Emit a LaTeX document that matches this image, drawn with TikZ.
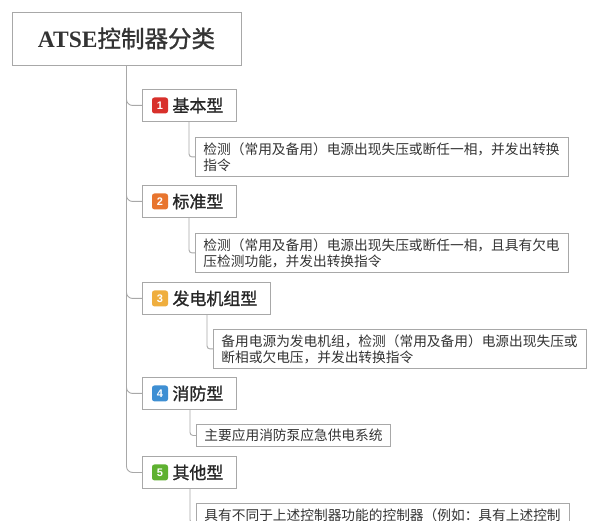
\documentclass[tikz,border=0pt]{standalone}
\usepackage{fontspec}
\setmainfont{Liberation Serif}
\newfontfamily\cjk{Noto Sans CJK SC}
\newfontfamily\cjkbold[FakeBold=1.2]{Noto Sans CJK SC}
\newfontfamily\badgefont{Liberation Sans}
\definecolor{linegray}{HTML}{A8A8A8}
\definecolor{textgray}{HTML}{333333}
\definecolor{badgered}{HTML}{D8302B}
\definecolor{badgeorange}{HTML}{E8752E}
\definecolor{badgeyellow}{HTML}{EFAE3E}
\definecolor{badgeblue}{HTML}{3E8FD3}
\definecolor{badgegreen}{HTML}{5EB130}
\newcommand{\detailfont}{\cjk\fontsize{13.7pt}{16pt}\selectfont}
\begin{document}
\begin{tikzpicture}[
    x=1pt, y=-1pt,
    box/.style={draw=linegray, line width=0.9pt, fill=white, inner sep=0pt, anchor=north west},
    rootbox/.style={box, anchor=center, minimum width=229pt, minimum height=53pt,
        font=\fontsize{23.5pt}{26pt}\selectfont, text=textgray},
    branch/.style={box, minimum height=32pt, inner xsep=13pt,
        font=\cjkbold\fontsize{17pt}{20pt}\selectfont, text=black!85},
    detail/.style={box, inner xsep=8pt, align=left, font=\detailfont, text=textgray},
    longdetail/.style={detail, text width=357pt, minimum height=39pt},
    badge/.style={fill=#1, rounded corners=2.5pt, minimum size=16pt, inner sep=0pt,
        text=white, font=\badgefont\bfseries\fontsize{11pt}{12pt}\selectfont},
    link/.style={draw=linegray, line width=0.9pt, rounded corners=6pt},
    sublink/.style={draw=linegray, line width=0.9pt, rounded corners=3pt}
]
    \useasboundingbox (0,0) rectangle (600,521);
    \clip (0,0) rectangle (600,521);

    % Root
    \node[rootbox] (root) at (126.5,38.5)
        {\textbf{ATSE}{\cjkbold\fontsize{23.5pt}{26pt}\selectfont 控制器分类}};

    % Branches and their details
    \node[branch] (b1) at (142,89) {\hspace*{17pt}基本型};
    \node[longdetail] (d1) at (195,137)
        {检测（常用及备用）电源出现失压或断任一相，并发出转换\\指令};

    \node[branch] (b2) at (142,185) {\hspace*{17pt}标准型};
    \node[longdetail] (d2) at (195,233)
        {检测（常用及备用）电源出现失压或断任一相，且具有欠电\\压检测功能，并发出转换指令};

    \node[branch] (b3) at (142,282) {\hspace*{17pt}发电机组型};
    \node[longdetail] (d3) at (213,329)
        {备用电源为发电机组，检测（常用及备用）电源出现失压或\\断相或欠电压，并发出转换指令};

    \node[branch] (b4) at (142,377) {\hspace*{17pt}消防型};
    \node[detail, minimum height=22pt] (d4) at (196,424)
        {主要应用消防泵应急供电系统};

    \node[branch] (b5) at (142,456) {\hspace*{17pt}其他型};
    \node[longdetail] (d5) at (196,503)
        {具有不同于上述控制器功能的控制器（例如：具有上述控制\\\mbox{}};

    % Number badges
    \node[badge=badgered]    (n1) at ([xshift=18pt]b1.west) {1};
    \node[badge=badgeorange] (n2) at ([xshift=18pt]b2.west) {2};
    \node[badge=badgeyellow] (n3) at ([xshift=18pt]b3.west) {3};
    \node[badge=badgeblue]   (n4) at ([xshift=18pt]b4.west) {4};
    \node[badge=badgegreen]  (n5) at ([xshift=18pt]b5.west) {5};

    % Connectors
    \foreach \i in {1,...,5} {
        \draw[link] (root.south) |- (b\i.west);
        \draw[sublink] ([xshift=-6pt]d\i.west |- b\i.south) |- (d\i.west);
    }
\end{tikzpicture}
\end{document}
